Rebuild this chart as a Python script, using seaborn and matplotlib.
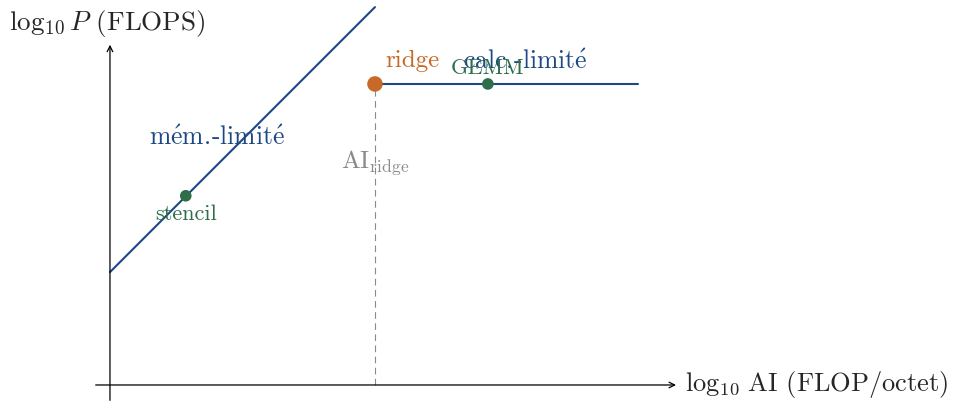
import matplotlib
matplotlib.use("Agg")
import matplotlib.pyplot as plt
import seaborn as sns
import pandas as pd

# Roofline model, in log10 units
ai_mem = [0.0, 5.0]          # memory-bound roof: log10 AI
p_mem = [2.13, 7.13]         # memory-bound roof: log10 P
ai_comp = [5.0, 9.96]        # compute-bound roof: log10 AI
p_comp = [5.68, 5.68]        # compute-bound roof: log10 P
ridge_ai = 5.0
ridge_p = 5.68
kernel_names = ["stencil", "GEMM"]
kernel_ai = [1.43, 7.13]
kernel_p = [3.57, 5.68]

BLUE = "#1e4885"
ORANGE = "#c76a29"
GREEN = "#2f6e4b"
GRAY = "#8a8a8a"

sns.set_style("white")
plt.rcParams["font.family"] = ["cmr10", "DejaVu Serif"]
plt.rcParams["mathtext.fontset"] = "cm"
plt.rcParams["axes.unicode_minus"] = False

fig = plt.figure(figsize=(9.54, 4.03), dpi=100)
ax = fig.add_axes([0, 0, 1, 1])
ax.set_xlim(-2.075, 15.925)
ax.set_ylim(-0.34, 7.264)
ax.axis("off")

# axes with arrows
ax.annotate("", xy=(10.68, 0), xytext=(-0.27, 0),
            arrowprops=dict(arrowstyle="->", lw=0.9, color="black",
                            shrinkA=0, shrinkB=0))
ax.annotate("", xy=(0, 6.42), xytext=(0, -0.29),
            arrowprops=dict(arrowstyle="->", lw=0.9, color="black",
                            shrinkA=0, shrinkB=0))

# ridge guide
ax.plot([ridge_ai, ridge_ai], [0, ridge_p], color=GRAY, lw=0.8,
        dashes=(6, 4))

# roofs
sns.lineplot(x=ai_mem, y=p_mem, ax=ax, color=BLUE, lw=1.5)
sns.lineplot(x=ai_comp, y=p_comp, ax=ax, color=BLUE, lw=1.5)

# kernels and ridge point
kern = pd.DataFrame({"ai": kernel_ai, "p": kernel_p, "name": kernel_names})
sns.scatterplot(data=kern, x="ai", y="p", ax=ax, color=GREEN, s=70,
                edgecolor="none", zorder=5)
sns.scatterplot(x=[ridge_ai], y=[ridge_p], ax=ax, color=ORANGE, s=125,
                edgecolor="none", zorder=6)

fs = 18.5
mem_label = r"$\mathrm{m\acute{e}m.}\!$-$\mathrm{limit\acute{e}}$"
comp_label = r"$\mathrm{calc.}\!$-$\mathrm{limit\acute{e}}$"
ax.text(2.02, 4.66, mem_label, color=BLUE, fontsize=fs,
        ha="center", va="center")
ax.text(7.83, 6.09, comp_label, color=BLUE, fontsize=fs,
        ha="center", va="center")
ax.text(5.19, 6.11, "ridge", color=ORANGE, fontsize=18,
        ha="left", va="center")
ax.text(kernel_ai[1], 5.98, kernel_names[1], color=GREEN,
        fontsize=16, ha="center", va="center")
ax.text(kernel_ai[0], 3.23, kernel_names[0], color=GREEN,
        fontsize=16, ha="center", va="center")
ax.text(ridge_ai, 4.19, r"AI$_{\mathrm{ridge}}$", color=GRAY, fontsize=18,
        ha="center", va="center")

ax.text(-1.9, 6.83, r"$\log_{10} P$ (FLOPS)", fontsize=19.5,
        ha="left", va="center")
ax.text(10.85, 0, r"$\log_{10}\,$AI (FLOP/octet)", fontsize=19,
        ha="left", va="center")

fig.savefig("out.png", dpi=100)
